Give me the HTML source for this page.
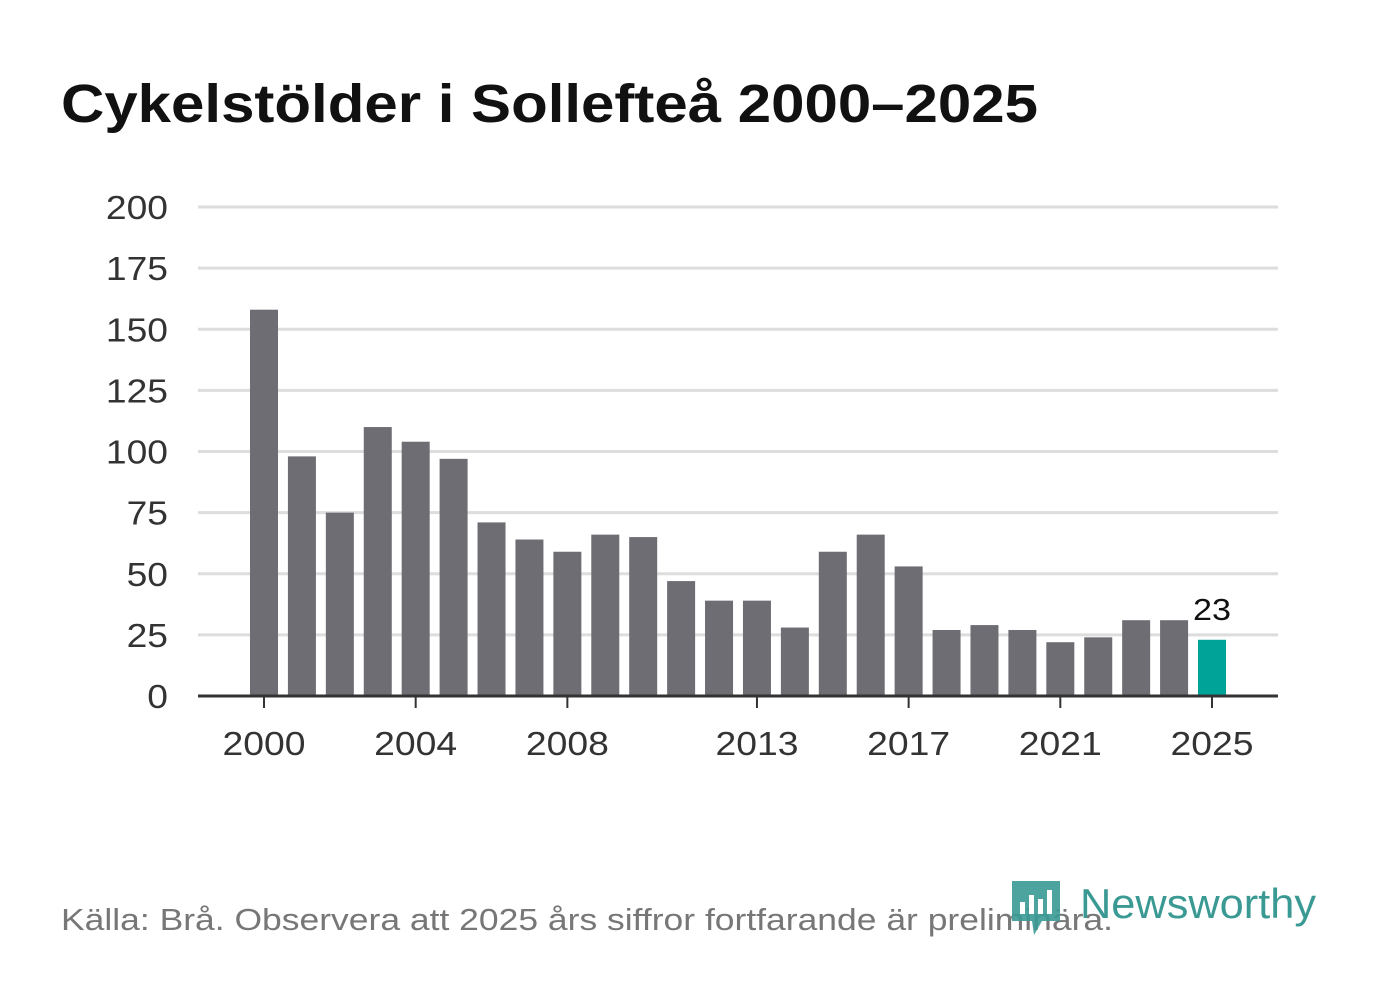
<!DOCTYPE html>
<html><head><meta charset="utf-8"><style>
body{margin:0;background:#fff;width:1382px;height:999px;overflow:hidden;font-family:"Liberation Sans","DejaVu Sans",sans-serif}
</style></head><body>
<svg width="1382" height="999">
<text x="61" y="122" font-size="54" font-weight="bold" fill="#111" textLength="977" lengthAdjust="spacingAndGlyphs">Cykelstölder i Sollefteå 2000–2025</text>
<g id="grid"></g><g id="bars"></g><g id="xt"></g>
<text x="61" y="930" font-size="31" fill="#777" textLength="1052" lengthAdjust="spacingAndGlyphs">Källa: Brå. Observera att 2025 års siffror fortfarande är preliminära.</text>
<g>
<path d="M1012 881 h48 v40 h-18 l-8 14 l-2 -14 h-20 z" fill="#3a9a93" opacity="0.9"/>
<rect x="1020" y="902" width="5" height="12" fill="#fff"/><rect x="1029" y="895" width="5" height="19" fill="#fff"/><rect x="1038" y="899" width="5" height="15" fill="#fff"/><rect x="1047" y="890" width="5" height="24" fill="#fff"/>
<text x="1080" y="918" font-size="42" fill="#3a9a93" textLength="236" lengthAdjust="spacingAndGlyphs">Newsworthy</text></g>
</svg>
<script>
const years=[2000,2001,2002,2003,2004,2005,2006,2007,2008,2009,2010,2011,2012,2013,2014,2015,2016,2017,2018,2019,2020,2021,2022,2023,2024,2025];
const values=[158,98,75,110,104,97,71,64,59,66,65,47,39,39,28,59,66,53,27,29,27,22,24,31,31,23];
const yTicks=[0,25,50,75,100,125,150,175,200];
const xTicks=[2000,2004,2008,2013,2017,2021,2025];
const NS="http://www.w3.org/2000/svg";
const y=v=>696-v*489/200, x=yr=>264+(yr-2000)*37.92;
function mk(t,a,p){const e=document.createElementNS(NS,t);for(const k in a)e.setAttribute(k,a[k]);p.appendChild(e);return e;}
const g=document.getElementById('grid'),b=document.getElementById('bars'),xt=document.getElementById('xt');
yTicks.forEach(v=>{
 if(v>0){const l=mk('line',{x1:198,x2:1278,y1:y(v),y2:y(v),stroke:'#ddd','stroke-width':3},g);
 
 }
 const s=String(v);
 const t=mk('text',{x:168,y:y(v)+12,'font-size':33,fill:'#333','text-anchor':'end',textLength:s.length*20.7,lengthAdjust:'spacingAndGlyphs'},g);t.textContent=s;
 
 
});
values.forEach((v,i)=>{
 const r=mk('rect',{x:x(years[i])-14,y:y(v),width:28,height:696-y(v),fill:years[i]===2025?'#00a398':'#6e6d73'},b);
 
 
});
const last=values.length-1;
const lb=mk('text',{x:x(years[last]),y:y(values[last])-20,'font-size':31,fill:'#111','text-anchor':'middle',textLength:38,lengthAdjust:'spacingAndGlyphs'},b);lb.textContent=values[last];


const ax=mk('line',{x1:198,x2:1278,y1:696,y2:696,stroke:'#333','stroke-width':3},xt);


xTicks.forEach(yr=>{
 mk('line',{x1:x(yr),x2:x(yr),y1:696,y2:708,stroke:'#333','stroke-width':2},xt);
 const t=mk('text',{x:x(yr),y:755,'font-size':33,fill:'#333','text-anchor':'middle',textLength:83,lengthAdjust:'spacingAndGlyphs'},xt);t.textContent=yr;
 
 
});
</script>
</body></html>
